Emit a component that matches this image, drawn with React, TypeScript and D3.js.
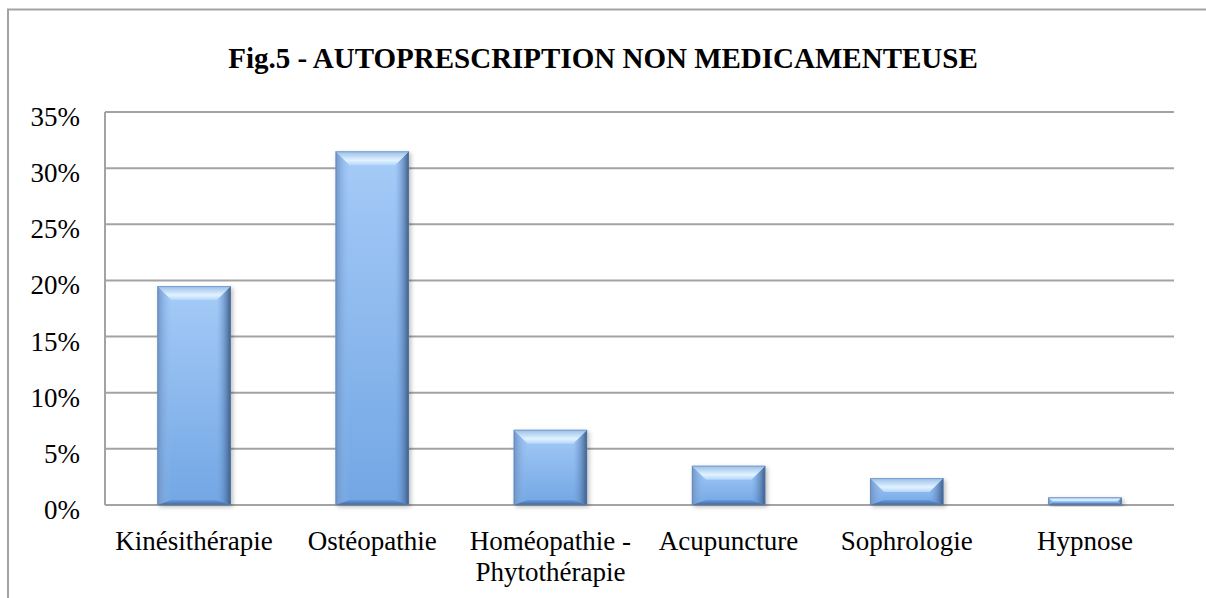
import React from "react";
import * as d3 from "d3";

// chart data
const title = "Fig.5 - AUTOPRESCRIPTION NON MEDICAMENTEUSE";
const categories = [
  "Kinésithérapie",
  "Ostéopathie",
  "Homéopathie - Phytothérapie",
  "Acupuncture",
  "Sophrologie",
  "Hypnose",
];
const values = [19.5, 31.5, 6.7, 3.5, 2.4, 0.7];
const yTicks = [0, 5, 10, 15, 20, 25, 30, 35];

const width = 1206;
const height = 598;
const margin = { left: 105, right: 32, top: 112, bottom: 93 };
const font = "'Liberation Serif', 'Times New Roman', serif";
const gridColor = "#a3a3a3";

// split long labels after the dash, like the spreadsheet does
function wrapLabel(label: string): string[] {
  const i = label.indexOf(" - ");
  if (i < 0) return [label];
  return [label.slice(0, i + 2), label.slice(i + 3)];
}

function Bar({ x0, x1, y0, y1 }: { x0: number; x1: number; y0: number; y1: number }) {
  const h = y1 - y0;
  const t = Math.min(14, h * 0.55); // top bevel
  const s = Math.min(14, h * 0.55); // side bevel
  const b = Math.min(5, h * 0.3); // bottom bevel
  const pts = (p: number[][]) => p.map((d) => d.join(",")).join(" ");
  return (
    <g filter="url(#barShadow)">
      <rect x={x0} y={y0} width={x1 - x0} height={h} fill="url(#bodyGrad)" />
      <polygon points={pts([[x0, y0], [x0 + s, y0 + t], [x0 + s, y1 - b], [x0, y1]])} fill="url(#leftGrad)" />
      <polygon points={pts([[x1, y0], [x1, y1], [x1 - s, y1 - b], [x1 - s, y0 + t]])} fill="url(#rightGrad)" />
      <polygon points={pts([[x0, y1], [x0 + s, y1 - b], [x1 - s, y1 - b], [x1, y1]])} fill="url(#bottomGrad)" />
      <polygon points={pts([[x0, y0], [x1, y0], [x1 - s, y0 + t], [x0 + s, y0 + t]])} fill="url(#topGrad)" />
      <rect x={x0 + 0.5} y={y0 + 0.5} width={x1 - x0 - 1} height={h - 1} fill="none" stroke="#5b7fae" strokeOpacity={0.5} strokeWidth={1} />
    </g>
  );
}

export default function App() {
  const x = d3
    .scaleBand<string>()
    .domain(categories)
    .range([margin.left, width - margin.right])
    .paddingInner(0.588)
    .paddingOuter(0.294);
  const y = d3.scaleLinear().domain([0, 35]).range([height - margin.bottom, margin.top]);

  return (
    <svg
      width={width}
      height={height}
      style={{ position: "absolute", left: 0, top: 0, background: "#fff" }}
      fontFamily={font}
    >
      <defs>
        <linearGradient id="bodyGrad" x1="0" y1="0" x2="0" y2="1">
          <stop offset="0" stopColor="#a6cbf7" />
          <stop offset="1" stopColor="#72a6e4" />
        </linearGradient>
        <linearGradient id="topGrad" x1="0" y1="0" x2="0" y2="1">
          <stop offset="0" stopColor="#98bde9" />
          <stop offset="0.65" stopColor="#e2f3ff" />
          <stop offset="1" stopColor="#b2d5fb" />
        </linearGradient>
        <linearGradient id="leftGrad" x1="0" y1="0" x2="1" y2="0">
          <stop offset="0" stopColor="#6f93c4" />
          <stop offset="1" stopColor="#8fbdf2" stopOpacity={0} />
        </linearGradient>
        <linearGradient id="rightGrad" x1="1" y1="0" x2="0" y2="0">
          <stop offset="0" stopColor="#3c5b86" />
          <stop offset="1" stopColor="#6e9fda" stopOpacity={0} />
        </linearGradient>
        <linearGradient id="bottomGrad" x1="0" y1="1" x2="0" y2="0">
          <stop offset="0" stopColor="#3f69a2" />
          <stop offset="1" stopColor="#6a9cda" />
        </linearGradient>
        <filter id="barShadow" x="-20%" y="-20%" width="140%" height="140%">
          <feDropShadow dx="2" dy="2" stdDeviation="2" floodColor="#000" floodOpacity="0.25" />
        </filter>
      </defs>

      {/* chart frame, cut off at right and bottom */}
      <rect x={8} y={9.5} width={1300} height={700} fill="none" stroke={gridColor} strokeWidth={2} />

      <text x={603} y={68} textAnchor="middle" fontSize={29} fontWeight="bold" fill="#000">
        {title}
      </text>

      {/* gridlines */}
      {yTicks.map((t) => (
        <line key={t} x1={margin.left} x2={width - margin.right} y1={y(t)} y2={y(t)} stroke={gridColor} strokeWidth={2} />
      ))}
      <line x1={margin.left} x2={margin.left} y1={y(35)} y2={y(0)} stroke={gridColor} strokeWidth={2} />

      {/* y tick labels */}
      {yTicks.map((t) => (
        <text key={t} x={80} y={y(t) + 14} textAnchor="end" fontSize={27} fill="#000">
          {t + "%"}
        </text>
      ))}

      {/* bars */}
      {categories.map((c, i) => (
        <Bar key={c} x0={x(c)!} x1={x(c)! + x.bandwidth()} y0={y(values[i])} y1={y(0)} />
      ))}

      {/* category labels */}
      {categories.map((c) => (
        <text key={c} textAnchor="middle" fontSize={27} fill="#000">
          {wrapLabel(c).map((line, j) => (
            <tspan key={j} x={x(c)! + x.bandwidth() / 2} y={549.5 + j * 31}>
              {line}
            </tspan>
          ))}
        </text>
      ))}
    </svg>
  );
}
